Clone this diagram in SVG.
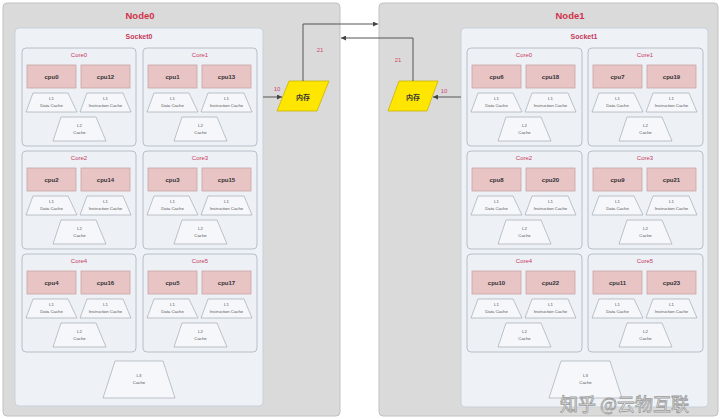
<svg xmlns="http://www.w3.org/2000/svg" width="720" height="419" viewBox="0 0 720 419">
<style>
.node{fill:#dadada;stroke:#c2c2c2;stroke-width:1}
.sock{fill:#eef2f7;stroke:#c9d1db;stroke-width:1}
.core{fill:#edf1f6;stroke:#a9b3bf;stroke-width:0.8}
.cpu{fill:#e8c4c5;stroke:#c7a5a6;stroke-width:0.8}
.cache{fill:#f5f7fa;stroke:#97a0aa;stroke-width:0.6}
.mem{fill:#ffe600;stroke:#c9b400;stroke-width:0.8}
text{font-family:"Liberation Sans",Arial,sans-serif;text-anchor:middle}
.nlab{font-size:9.5px;font-weight:bold;fill:#d0324b}
.slab{font-size:7px;font-weight:bold;fill:#c8385a}
.clab{font-size:6px;fill:#c8385a}
.cpt{font-size:6px;font-weight:bold;fill:#333}
.ct{font-size:4.3px;fill:#555}
.elab{font-size:6px;fill:#d04a6a}
.mt{font-family:"Noto Sans CJK SC","Liberation Serif",serif;font-size:7px;font-weight:bold;fill:#333}
.conn{fill:none;stroke:#555;stroke-width:1}
.wm{font-family:"Noto Sans CJK SC",sans-serif;font-size:18px;fill:#ffffff;stroke:#9a9a9a;stroke-width:0.8;text-anchor:start}
</style>
<defs>
<marker id="ah" viewBox="0 0 10 10" refX="10" refY="5" markerWidth="5" markerHeight="5" orient="auto">
<path d="M0,0 L10,5 L0,10 z" fill="#444"/>
</marker>
</defs>
<rect width="720" height="419" fill="#ffffff"/>

<g id="node0">
<rect class="node" x="3" y="3" width="337" height="413" rx="4"/>
<text class="nlab" x="140" y="19">Node0</text>
</g>
<g id="node1">
<rect class="node" x="379" y="3" width="339" height="413" rx="4"/>
<text class="nlab" x="570" y="19">Node1</text>
</g>

<g id="socket0">
<rect class="sock" x="15" y="28" width="248" height="378" rx="4"/>
<text class="slab" x="139" y="39">Socket0</text>
</g>
<g id="socket1">
<rect class="sock" x="461" y="28" width="247" height="379" rx="4"/>
<text class="slab" x="584" y="39">Socket1</text>
</g>

<g id="n0core0" transform="translate(22,48)">
<rect class="core" x="0" y="0" width="114" height="98" rx="4"/>
<text class="clab" x="57" y="9">Core0</text>
<rect class="cpu" x="5" y="17" width="49" height="23"/><text class="cpt" x="29.5" y="30.5">cpu0</text>
<rect class="cpu" x="59" y="17" width="49" height="23"/><text class="cpt" x="83.5" y="30.5">cpu12</text>
<polygon class="cache" points="11,45 46,45 55,64 4,64"/><text class="ct" x="29.5" y="52">L1</text><text class="ct" x="29.5" y="59">Data Cache</text>
<polygon class="cache" points="65,45 101,45 109,64 58,64"/><text class="ct" x="83.5" y="52">L1</text><text class="ct" x="83.5" y="59">Instruction Cache</text>
<polygon class="cache" points="39,69 74,69 84,93 31,93"/><text class="ct" x="57.5" y="79">L2</text><text class="ct" x="57.5" y="86">Cache</text>
</g>
<g id="n0core1" transform="translate(143,48)">
<rect class="core" x="0" y="0" width="114" height="98" rx="4"/>
<text class="clab" x="57" y="9">Core1</text>
<rect class="cpu" x="5" y="17" width="49" height="23"/><text class="cpt" x="29.5" y="30.5">cpu1</text>
<rect class="cpu" x="59" y="17" width="49" height="23"/><text class="cpt" x="83.5" y="30.5">cpu13</text>
<polygon class="cache" points="11,45 46,45 55,64 4,64"/><text class="ct" x="29.5" y="52">L1</text><text class="ct" x="29.5" y="59">Data Cache</text>
<polygon class="cache" points="65,45 101,45 109,64 58,64"/><text class="ct" x="83.5" y="52">L1</text><text class="ct" x="83.5" y="59">Instruction Cache</text>
<polygon class="cache" points="39,69 74,69 84,93 31,93"/><text class="ct" x="57.5" y="79">L2</text><text class="ct" x="57.5" y="86">Cache</text>
</g>
<g id="n0core2" transform="translate(22,151)">
<rect class="core" x="0" y="0" width="114" height="98" rx="4"/>
<text class="clab" x="57" y="9">Core2</text>
<rect class="cpu" x="5" y="17" width="49" height="23"/><text class="cpt" x="29.5" y="30.5">cpu2</text>
<rect class="cpu" x="59" y="17" width="49" height="23"/><text class="cpt" x="83.5" y="30.5">cpu14</text>
<polygon class="cache" points="11,45 46,45 55,64 4,64"/><text class="ct" x="29.5" y="52">L1</text><text class="ct" x="29.5" y="59">Data Cache</text>
<polygon class="cache" points="65,45 101,45 109,64 58,64"/><text class="ct" x="83.5" y="52">L1</text><text class="ct" x="83.5" y="59">Instruction Cache</text>
<polygon class="cache" points="39,69 74,69 84,93 31,93"/><text class="ct" x="57.5" y="79">L2</text><text class="ct" x="57.5" y="86">Cache</text>
</g>
<g id="n0core3" transform="translate(143,151)">
<rect class="core" x="0" y="0" width="114" height="98" rx="4"/>
<text class="clab" x="57" y="9">Core3</text>
<rect class="cpu" x="5" y="17" width="49" height="23"/><text class="cpt" x="29.5" y="30.5">cpu3</text>
<rect class="cpu" x="59" y="17" width="49" height="23"/><text class="cpt" x="83.5" y="30.5">cpu15</text>
<polygon class="cache" points="11,45 46,45 55,64 4,64"/><text class="ct" x="29.5" y="52">L1</text><text class="ct" x="29.5" y="59">Data Cache</text>
<polygon class="cache" points="65,45 101,45 109,64 58,64"/><text class="ct" x="83.5" y="52">L1</text><text class="ct" x="83.5" y="59">Instruction Cache</text>
<polygon class="cache" points="39,69 74,69 84,93 31,93"/><text class="ct" x="57.5" y="79">L2</text><text class="ct" x="57.5" y="86">Cache</text>
</g>
<g id="n0core4" transform="translate(22,254)">
<rect class="core" x="0" y="0" width="114" height="98" rx="4"/>
<text class="clab" x="57" y="9">Core4</text>
<rect class="cpu" x="5" y="17" width="49" height="23"/><text class="cpt" x="29.5" y="30.5">cpu4</text>
<rect class="cpu" x="59" y="17" width="49" height="23"/><text class="cpt" x="83.5" y="30.5">cpu16</text>
<polygon class="cache" points="11,45 46,45 55,64 4,64"/><text class="ct" x="29.5" y="52">L1</text><text class="ct" x="29.5" y="59">Data Cache</text>
<polygon class="cache" points="65,45 101,45 109,64 58,64"/><text class="ct" x="83.5" y="52">L1</text><text class="ct" x="83.5" y="59">Instruction Cache</text>
<polygon class="cache" points="39,69 74,69 84,93 31,93"/><text class="ct" x="57.5" y="79">L2</text><text class="ct" x="57.5" y="86">Cache</text>
</g>
<g id="n0core5" transform="translate(143,254)">
<rect class="core" x="0" y="0" width="114" height="98" rx="4"/>
<text class="clab" x="57" y="9">Core5</text>
<rect class="cpu" x="5" y="17" width="49" height="23"/><text class="cpt" x="29.5" y="30.5">cpu5</text>
<rect class="cpu" x="59" y="17" width="49" height="23"/><text class="cpt" x="83.5" y="30.5">cpu17</text>
<polygon class="cache" points="11,45 46,45 55,64 4,64"/><text class="ct" x="29.5" y="52">L1</text><text class="ct" x="29.5" y="59">Data Cache</text>
<polygon class="cache" points="65,45 101,45 109,64 58,64"/><text class="ct" x="83.5" y="52">L1</text><text class="ct" x="83.5" y="59">Instruction Cache</text>
<polygon class="cache" points="39,69 74,69 84,93 31,93"/><text class="ct" x="57.5" y="79">L2</text><text class="ct" x="57.5" y="86">Cache</text>
</g>
<g id="n0l3">
<polygon class="cache" points="115,361 163,361 175,398 103,398"/>
<text class="ct" x="139" y="377">L3</text><text class="ct" x="139" y="384">Cache</text>
</g>

<g id="n1core0" transform="translate(467,48)">
<rect class="core" x="0" y="0" width="115" height="98" rx="4"/>
<text class="clab" x="57" y="9">Core0</text>
<rect class="cpu" x="5" y="17" width="49" height="23"/><text class="cpt" x="29.5" y="30.5">cpu6</text>
<rect class="cpu" x="59" y="17" width="49" height="23"/><text class="cpt" x="83.5" y="30.5">cpu18</text>
<polygon class="cache" points="11,45 46,45 55,64 4,64"/><text class="ct" x="29.5" y="52">L1</text><text class="ct" x="29.5" y="59">Data Cache</text>
<polygon class="cache" points="65,45 101,45 109,64 58,64"/><text class="ct" x="83.5" y="52">L1</text><text class="ct" x="83.5" y="59">Instruction Cache</text>
<polygon class="cache" points="39,69 74,69 84,93 31,93"/><text class="ct" x="57.5" y="79">L2</text><text class="ct" x="57.5" y="86">Cache</text>
</g>
<g id="n1core1" transform="translate(588,48)">
<rect class="core" x="0" y="0" width="115" height="98" rx="4"/>
<text class="clab" x="57" y="9">Core1</text>
<rect class="cpu" x="5" y="17" width="49" height="23"/><text class="cpt" x="29.5" y="30.5">cpu7</text>
<rect class="cpu" x="59" y="17" width="49" height="23"/><text class="cpt" x="83.5" y="30.5">cpu19</text>
<polygon class="cache" points="11,45 46,45 55,64 4,64"/><text class="ct" x="29.5" y="52">L1</text><text class="ct" x="29.5" y="59">Data Cache</text>
<polygon class="cache" points="65,45 101,45 109,64 58,64"/><text class="ct" x="83.5" y="52">L1</text><text class="ct" x="83.5" y="59">Instruction Cache</text>
<polygon class="cache" points="39,69 74,69 84,93 31,93"/><text class="ct" x="57.5" y="79">L2</text><text class="ct" x="57.5" y="86">Cache</text>
</g>
<g id="n1core2" transform="translate(467,151)">
<rect class="core" x="0" y="0" width="115" height="98" rx="4"/>
<text class="clab" x="57" y="9">Core2</text>
<rect class="cpu" x="5" y="17" width="49" height="23"/><text class="cpt" x="29.5" y="30.5">cpu8</text>
<rect class="cpu" x="59" y="17" width="49" height="23"/><text class="cpt" x="83.5" y="30.5">cpu20</text>
<polygon class="cache" points="11,45 46,45 55,64 4,64"/><text class="ct" x="29.5" y="52">L1</text><text class="ct" x="29.5" y="59">Data Cache</text>
<polygon class="cache" points="65,45 101,45 109,64 58,64"/><text class="ct" x="83.5" y="52">L1</text><text class="ct" x="83.5" y="59">Instruction Cache</text>
<polygon class="cache" points="39,69 74,69 84,93 31,93"/><text class="ct" x="57.5" y="79">L2</text><text class="ct" x="57.5" y="86">Cache</text>
</g>
<g id="n1core3" transform="translate(588,151)">
<rect class="core" x="0" y="0" width="115" height="98" rx="4"/>
<text class="clab" x="57" y="9">Core3</text>
<rect class="cpu" x="5" y="17" width="49" height="23"/><text class="cpt" x="29.5" y="30.5">cpu9</text>
<rect class="cpu" x="59" y="17" width="49" height="23"/><text class="cpt" x="83.5" y="30.5">cpu21</text>
<polygon class="cache" points="11,45 46,45 55,64 4,64"/><text class="ct" x="29.5" y="52">L1</text><text class="ct" x="29.5" y="59">Data Cache</text>
<polygon class="cache" points="65,45 101,45 109,64 58,64"/><text class="ct" x="83.5" y="52">L1</text><text class="ct" x="83.5" y="59">Instruction Cache</text>
<polygon class="cache" points="39,69 74,69 84,93 31,93"/><text class="ct" x="57.5" y="79">L2</text><text class="ct" x="57.5" y="86">Cache</text>
</g>
<g id="n1core4" transform="translate(467,254)">
<rect class="core" x="0" y="0" width="115" height="98" rx="4"/>
<text class="clab" x="57" y="9">Core4</text>
<rect class="cpu" x="5" y="17" width="49" height="23"/><text class="cpt" x="29.5" y="30.5">cpu10</text>
<rect class="cpu" x="59" y="17" width="49" height="23"/><text class="cpt" x="83.5" y="30.5">cpu22</text>
<polygon class="cache" points="11,45 46,45 55,64 4,64"/><text class="ct" x="29.5" y="52">L1</text><text class="ct" x="29.5" y="59">Data Cache</text>
<polygon class="cache" points="65,45 101,45 109,64 58,64"/><text class="ct" x="83.5" y="52">L1</text><text class="ct" x="83.5" y="59">Instruction Cache</text>
<polygon class="cache" points="39,69 74,69 84,93 31,93"/><text class="ct" x="57.5" y="79">L2</text><text class="ct" x="57.5" y="86">Cache</text>
</g>
<g id="n1core5" transform="translate(588,254)">
<rect class="core" x="0" y="0" width="115" height="98" rx="4"/>
<text class="clab" x="57" y="9">Core5</text>
<rect class="cpu" x="5" y="17" width="49" height="23"/><text class="cpt" x="29.5" y="30.5">cpu11</text>
<rect class="cpu" x="59" y="17" width="49" height="23"/><text class="cpt" x="83.5" y="30.5">cpu23</text>
<polygon class="cache" points="11,45 46,45 55,64 4,64"/><text class="ct" x="29.5" y="52">L1</text><text class="ct" x="29.5" y="59">Data Cache</text>
<polygon class="cache" points="65,45 101,45 109,64 58,64"/><text class="ct" x="83.5" y="52">L1</text><text class="ct" x="83.5" y="59">Instruction Cache</text>
<polygon class="cache" points="39,69 74,69 84,93 31,93"/><text class="ct" x="57.5" y="79">L2</text><text class="ct" x="57.5" y="86">Cache</text>
</g>
<g id="n1l3">
<polygon class="cache" points="561,361 610,361 622,398 549,398"/>
<text class="ct" x="585.5" y="377">L3</text><text class="ct" x="585.5" y="384">Cache</text>
</g>

<g id="mem0">
<polygon class="mem" points="289,81 329,81 317,111 277,111"/>
<text class="mt" x="303" y="99.5">内存</text>
</g>
<g id="mem1">
<polygon class="mem" points="399,81 438,81 427,111 388,111"/>
<text class="mt" x="413" y="99.5">内存</text>
</g>

<g id="connectors">
<line class="conn" x1="263" y1="97" x2="282" y2="97" marker-end="url(#ah)"/>
<polyline class="conn" points="303,81 303,24 378,24" marker-end="url(#ah)"/>
<polyline class="conn" points="413,81 413,38 341,38" marker-end="url(#ah)"/>
<line class="conn" x1="461" y1="97" x2="433" y2="97" marker-end="url(#ah)"/>
<text class="elab" x="277" y="91">10</text>
<text class="elab" x="320" y="52">21</text>
<text class="elab" x="398" y="62">21</text>
<text class="elab" x="444" y="93">10</text>
</g>

<text class="wm" x="560" y="411">知乎 @云物互联</text>
</svg>
